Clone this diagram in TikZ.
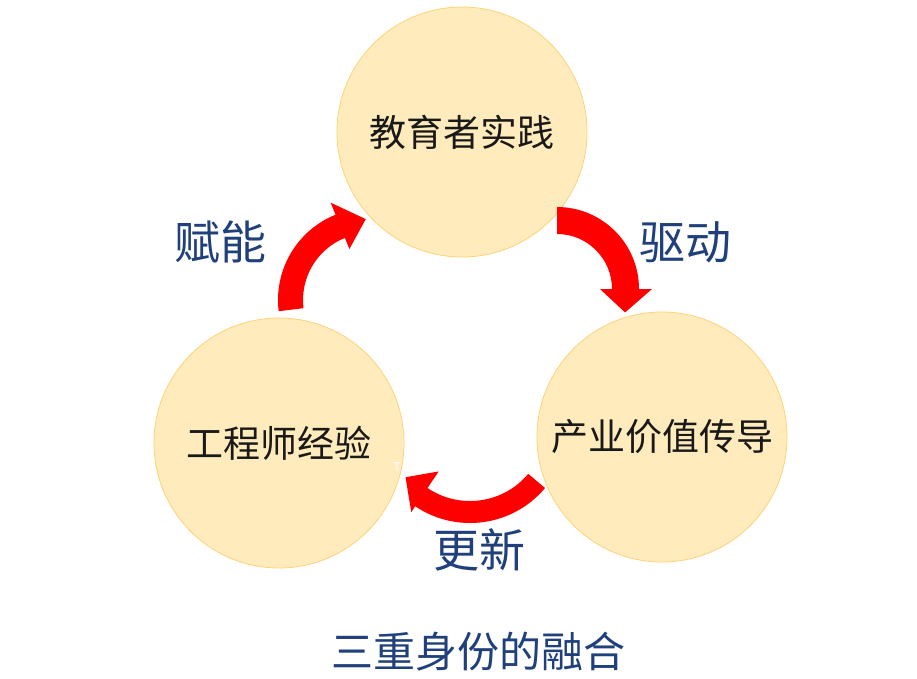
\documentclass[tikz,border=0pt]{standalone}
\usepackage{fontspec}
\newfontfamily\cjk{Noto Sans CJK SC}
\definecolor{rolefill}{RGB}{255,235,188}
\definecolor{roleline}{RGB}{255,210,122}
\definecolor{labelblue}{RGB}{31,64,122}
\tikzset{
	role/.style={circle, minimum size=250pt, inner sep=0pt, fill=rolefill, draw=roleline, line width=0.8pt, font=\cjk\fontsize{37}{37}\selectfont, text=black!90},
	cyclelabel/.style={font=\cjk\fontsize{46}{46}\selectfont, text=labelblue},
	bigarrow/.style={fill=red}
}
\begin{document}
\begin{tikzpicture}[x=1pt, y=-1pt]
			\useasboundingbox (0,0) rectangle (917,678);
			% three roles
			\node[role] (edu) at (462,132) {教育者实践};
			\node[role] (eng) at (279,443) {工程师经验};
			\node[role] (ind) at (662,437) {产业价值传导};
			\node[font=\cjk\fontsize{12}{12}\selectfont, text=white] (tmark) at (397,467) {T};
			% centres of the curved arrows
			\coordinate (lc) at (370,300);
			\coordinate (rc) at (557,289);
			\coordinate (bc) at (470,425);
			\fill[bigarrow] ([shift={(lc)}]173:92) arc[start angle=173, end angle=248, radius=92] -- ([shift={(lc)}]248:105) -- ([shift={(lc)}]267:81) -- ([shift={(lc)}]248:55) -- ([shift={(lc)}]248:67) arc[start angle=248, end angle=173, radius=67] -- cycle;
			\fill[bigarrow] ([shift={(rc)}]270:82) arc[start angle=270, end angle=360, radius=82] -- ([shift={(rc)}]0:95) -- ([shift={(rc)}]19:72) -- ([shift={(rc)}]0:43) -- ([shift={(rc)}]0:55) arc[start angle=360, end angle=270, radius=55] -- cycle;
			\fill[bigarrow] ([shift={(bc)}]40:98) arc[start angle=40, end angle=124, radius=98] -- ([shift={(bc)}]124:105) -- ([shift={(bc)}]141:83) -- ([shift={(bc)}]124:56) -- ([shift={(bc)}]124:76) arc[start angle=124, end angle=40, radius=76] -- cycle;
			% labels
			\node[cyclelabel] (enable) at (220,242) {赋能};
			\node[cyclelabel] (drive) at (685,242) {驱动};
			\node[cyclelabel] (renew) at (479,550) {更新};
			\node[cyclelabel, font=\cjk\fontsize{42}{42}\selectfont] (title) at (478,652) {三重身份的融合};
\end{tikzpicture}
\end{document}
